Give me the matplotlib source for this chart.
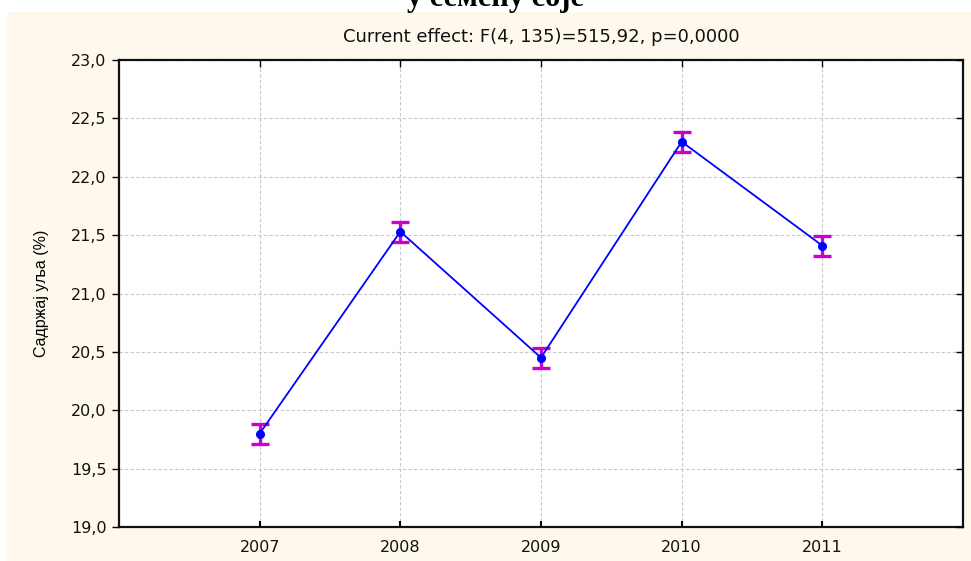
import matplotlib.pyplot as plt
from matplotlib.patches import Rectangle
from matplotlib.ticker import FuncFormatter

years = [2007, 2008, 2009, 2010, 2011]
oil_mean = [19.80, 21.53, 20.45, 22.30, 21.41]
oil_err = [0.085, 0.085, 0.085, 0.085, 0.085]
y_ticks = [19.0, 19.5, 20.0, 20.5, 21.0, 21.5, 22.0, 22.5, 23.0]

W, H = 971, 561
fig = plt.figure(figsize=(W / 100, H / 100), dpi=100)
fig.patch.set_facecolor("white")

# cream panel behind the plot
fig.patches.append(Rectangle((7 / W, 0), 1 - 7 / W, 1 - 12 / H, transform=fig.transFigure,
                             facecolor="#fef9ec", edgecolor="none", zorder=-10))

# cut-off heading above the panel
fig.text(495 / W, 1 - 6 / H, "у семену соје", ha="center", va="baseline",
         family="Liberation Serif", fontweight="bold", fontsize=22)

ax = fig.add_axes([119 / W, 1 - 527 / H, (963 - 119) / W, (527 - 60) / H])
ax.set_facecolor("white")

ax.errorbar(years, oil_mean, yerr=oil_err, fmt="none", ecolor="#cc00cc",
            elinewidth=2.4, capsize=6.5, capthick=2.4, zorder=3)
ax.plot(years, oil_mean, "-", color="#0000ff", linewidth=1.3, zorder=4)
ax.plot(years, oil_mean, "o", color="#0000ff", markersize=5.5, zorder=5)

ax.set_xlim(2006, 2012)
ax.set_ylim(19, 23)
ax.set_xticks(years)
ax.set_yticks(y_ticks)
ax.yaxis.set_major_formatter(FuncFormatter(lambda v, p: f"{v:.1f}".replace(".", ",")))
ax.grid(True, color="#c8c8c8", linestyle=(0, (3, 2)), linewidth=0.8)
ax.set_axisbelow(True)

for s in ax.spines.values():
    s.set_linewidth(1.6)
    s.set_color("#111111")

ax.tick_params(axis="y", direction="out", length=5, width=1.0, labelsize=11.5, pad=4)
ax.tick_params(axis="x", direction="in", length=4, width=1.5, labelsize=11.5, pad=9)
for lab in ax.get_xticklabels() + ax.get_yticklabels():
    lab.set_family("DejaVu Sans")
    lab.set_color("#111111")

# inward ticks on right and top
axr = ax.twinx()
axr.set_ylim(ax.get_ylim())
axr.set_yticks(y_ticks)
axr.tick_params(axis="y", direction="in", length=5, width=1.0, labelright=False)
axt = ax.twiny()
axt.set_xlim(ax.get_xlim())
axt.set_xticks(years)
axt.tick_params(axis="x", direction="in", length=5, width=1.0, labeltop=False)
for a in (axr, axt):
    for s in a.spines.values():
        s.set_visible(False)

ax.set_ylabel("Садржај уља (%)", family="Liberation Sans", fontsize=11.5)
ax.yaxis.set_label_coords(-70 / (963 - 119), (527 - 293) / (527 - 60))
ax.set_title("Current effect: F(4, 135)=515,92, p=0,0000",
             family="DejaVu Sans", fontsize=13, pad=13, color="#111111")

fig.savefig("out.png", dpi=100)
